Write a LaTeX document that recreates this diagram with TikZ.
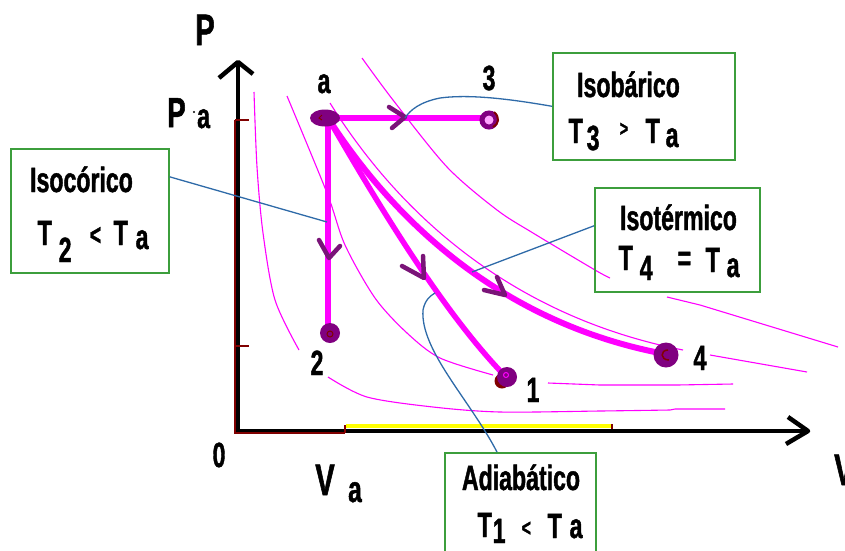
\documentclass[tikz,border=0pt]{standalone}
\usepackage{fontspec}
\setmainfont[FakeStretch=0.66,FakeBold=1.2]{Liberation Sans}
\usetikzlibrary{shapes.geometric}
\definecolor{mag}{HTML}{FF00FF}
\definecolor{pur}{HTML}{800080}
\definecolor{chevc}{HTML}{7A1478}
\definecolor{dred}{HTML}{800000}
\definecolor{cblue}{HTML}{2E6AA8}
\definecolor{bgreen}{HTML}{3C9E3C}
\definecolor{ylw}{HTML}{FFFF00}
\newcommand\lblfont{\fontsize{35pt}{40pt}\selectfont\bfseries}
\newcommand\biglblfont{\fontsize{44pt}{48pt}\selectfont\bfseries}
\newcommand\putat[3]{\makebox[0pt][l]{\hspace*{#1}\raisebox{#2}{#3}}}
\newcommand\fs[1]{\fontsize{#1}{#1}\selectfont}
\begin{document}
\begin{tikzpicture}[x=1pt,y=-1pt,
  iso/.style={mag, line width=1.1pt},
  proc/.style={mag, line width=5.5pt},
  chevron/.style={chevc, line width=4.5pt, line join=round, line cap=round},
  callout/.style={cblue, line width=1.3pt},
  box/.style={draw=bgreen, line width=1.6pt, inner sep=0pt, anchor=north west},
  lbl/.style={inner sep=0pt, font=\lblfont},
  biglbl/.style={inner sep=0pt, font=\biglblfont},
  axisln/.style={black, line width=4pt, line join=round},
  redln/.style={dred, line width=2pt},
  dot/.style={circle, fill=pur, inner sep=0pt, minimum size=#1}]
\useasboundingbox (0,0) rectangle (845,550);
\clip (0,0) rectangle (845,550);

% thin isotherms
\draw[iso] plot[smooth] coordinates {(254,92) (257,167) (263,233) (275,300) (299,350)};
\draw[iso] plot[smooth] coordinates {(328,377) (367,397) (433,407) (500,412) (600,411) (670,410)} -- (675,409) -- (725,409);
\draw[iso] plot[smooth] coordinates {(287,96) (327,193) (345,245) (375,298) (407,333) (440,358) (493,375)};
\draw[iso] (548,383) -- (600,385) -- (677,385) -- (733,384);
\draw[iso] (330,103) .. controls (404,222) and (520,318) .. (683,350);
\draw[iso] (710,355) -- (807,372);
\draw[iso] plot[smooth] coordinates {(362,58) (393,100) (447,167) (497,210) (533,233) (595,270) (610,278)};
\draw[iso] (667,297) -- (700,305) -- (838,347);

% axes
\coordinate (O) at (238,431);
\coordinate (ytip) at (238,62);
\coordinate (xtip) at (808,431);
\draw[axisln] (O) -- (ytip);
\draw[axisln] (236,431) -- (xtip);
\draw[axisln, line width=4.5pt] (219,78) -- (ytip) -- (253,74);
\draw[axisln, line width=4.5pt] (788,417) -- (xtip) -- (786,444);
\draw[redln, line width=1.6pt] (235,120) -- (235,433) -- (345,433);
\draw[redln] (235,120) -- (249,120);
\draw[redln] (235,346) -- (249,346);
\draw[redln] (345,433) -- (345,425);
\draw[ylw, line width=3.5pt] (346,426) -- (611,426);
\draw[redln, line width=1.5pt] (612,424) -- (612,429);

% process paths
\coordinate (ca) at (328,118);
\coordinate (c3) at (489,118);
\coordinate (c2) at (328,333);
\coordinate (c1) at (507,378);
\coordinate (c4) at (665,354);
\draw[proc] (ca) -- (c3);
\draw[proc] (ca) -- (c2);
\draw[proc] (ca) .. controls (370,190) and (440,310) .. (c1);
\draw[proc, line width=6pt] (ca) .. controls (400,230) and (510,325) .. (c4);

% state markers
\node[ellipse, fill=pur, inner sep=0pt, minimum width=30pt, minimum height=17pt] (pa) at (325,118) {};
\draw[dred, line width=1pt] (322,115) -- (319,118) -- (322,120);
\node[circle, draw=pur, line width=5pt, fill=mag!35, inner sep=0pt, minimum size=14pt] (p3) at (489,120) {};
\draw[dred, line width=2pt] (494,112) .. controls (500,117) and (499,124) .. (493,127);
\node[dot=20pt] (p2) at (330,333) {};
\draw[dred, line width=1pt] (330,334) circle[radius=3pt];
\node[circle, fill=dred, inner sep=0pt, minimum size=15pt] (p1b) at (502,381) {};
\node[dot=20pt] (p1) at (507,377) {};
\draw[mag, line width=1pt] (506,375) circle[radius=2.5pt];
\node[dot=25pt] (p4) at (666,355) {};
\draw[dred, line width=1.5pt] (668,350) .. controls (660,350) and (660,360) .. (669,360);

% direction chevrons
\draw[chevron] (389,107) -- (405,117) -- (392,128);
\draw[chevron] (319,240) -- (329,258) -- (340,246);
\draw[chevron] (402,266) -- (424,278) -- (423,256);
\draw[chevron] (484,290) -- (505,295) -- (497,277);

% axis labels
\node[biglbl, anchor=base] (lP) at (205,45) {P};
\node[biglbl, anchor=base west, font=\fontsize{42pt}{44pt}\selectfont\bfseries] (lPa) at (167,127) {P};
\node[lbl, anchor=base west] (lPa2) at (197,128) {a};
\fill[black] (194,112) circle[radius=1.2pt];
\node[lbl, anchor=base] (l0) at (219,467) {0};
\node[biglbl, anchor=base] (lV) at (325,495) {V};
\node[lbl, anchor=base, font=\fontsize{37pt}{40pt}\selectfont\bfseries] (lVa) at (355,502) {a};
\node[biglbl, anchor=base west] (lVr) at (834,485) {V};

% point labels
\node[lbl, anchor=base] (la) at (324,93) {a};
\node[lbl, anchor=base] (l3) at (489,90) {3};
\node[lbl, anchor=base] (l2) at (317,375) {2};
\node[lbl, anchor=base] (l1) at (533,402) {1};
\node[lbl, anchor=base] (l4) at (700,370) {4};

% boxes
\node[box, minimum width=158pt, minimum height=124pt] (isocBox) at (10,148) {};
\node[box, minimum width=182pt, minimum height=107pt] (isobBox) at (552,52) {};
\node[box, minimum width=165pt, minimum height=104pt] (isotBox) at (594,187) {};
\node[box, minimum width=151pt, minimum height=110pt] (adiaBox) at (444,452) {};

\node[lbl, anchor=base] (isocT) at (81.5,192) {Isocórico};
\node[lbl, anchor=base west] (isocF) at (37,245)
  {\putat{0pt}{0pt}{T}\putat{21pt}{-17pt}{2}\putat{52pt}{0pt}{\fs{30pt}<}\putat{76pt}{0pt}{T}\putat{98pt}{-4pt}{a}};
\node[lbl, anchor=base] (isobT) at (628.5,97) {Isobárico};
\node[lbl, anchor=base west] (isobF) at (568,143)
  {\putat{0pt}{0pt}{T}\putat{18pt}{-7pt}{3}\putat{51pt}{7pt}{\fs{22pt}>}\putat{77pt}{0pt}{T}\putat{97pt}{-4pt}{a}};
\node[lbl, anchor=base] (isotT) at (678.5,230) {Isotérmico};
\node[lbl, anchor=base west] (isotF) at (618,270)
  {\putat{0pt}{0pt}{T}\putat{21pt}{-10pt}{4}\putat{59pt}{0pt}{=}\putat{87pt}{-2pt}{T}\putat{108pt}{-7pt}{a}};
\node[lbl, anchor=base] (adiaT) at (521,490) {Adiabático};
\node[lbl, anchor=base west] (adiaF) at (477,537)
  {\putat{0pt}{0pt}{T}\putat{15pt}{-6pt}{1}\putat{44pt}{1pt}{\fs{24pt}<}\putat{70pt}{-1pt}{T}\putat{92pt}{-1pt}{a}};

% callouts
\coordinate (kIsoc) at (327,222);
\coordinate (kIsob) at (405,118);
\coordinate (kIsot) at (472,272);
\coordinate (kAdia) at (435,293);
\draw[callout] ([yshift=34pt]isocBox.east) -- (kIsoc);
\draw[callout] (isobBox.west) .. controls (510,99) and (470,94) .. (440,98) .. controls (420,102) and (410,110) .. (kIsob);
\draw[callout] ([yshift=14pt]isotBox.west) -- (kIsot);
\draw[callout] ([xshift=53pt]adiaBox.north west) .. controls (470,400) and (420,350) .. (423,310) .. controls (425,300) and (430,296) .. (kAdia);
\end{tikzpicture}
\end{document}
